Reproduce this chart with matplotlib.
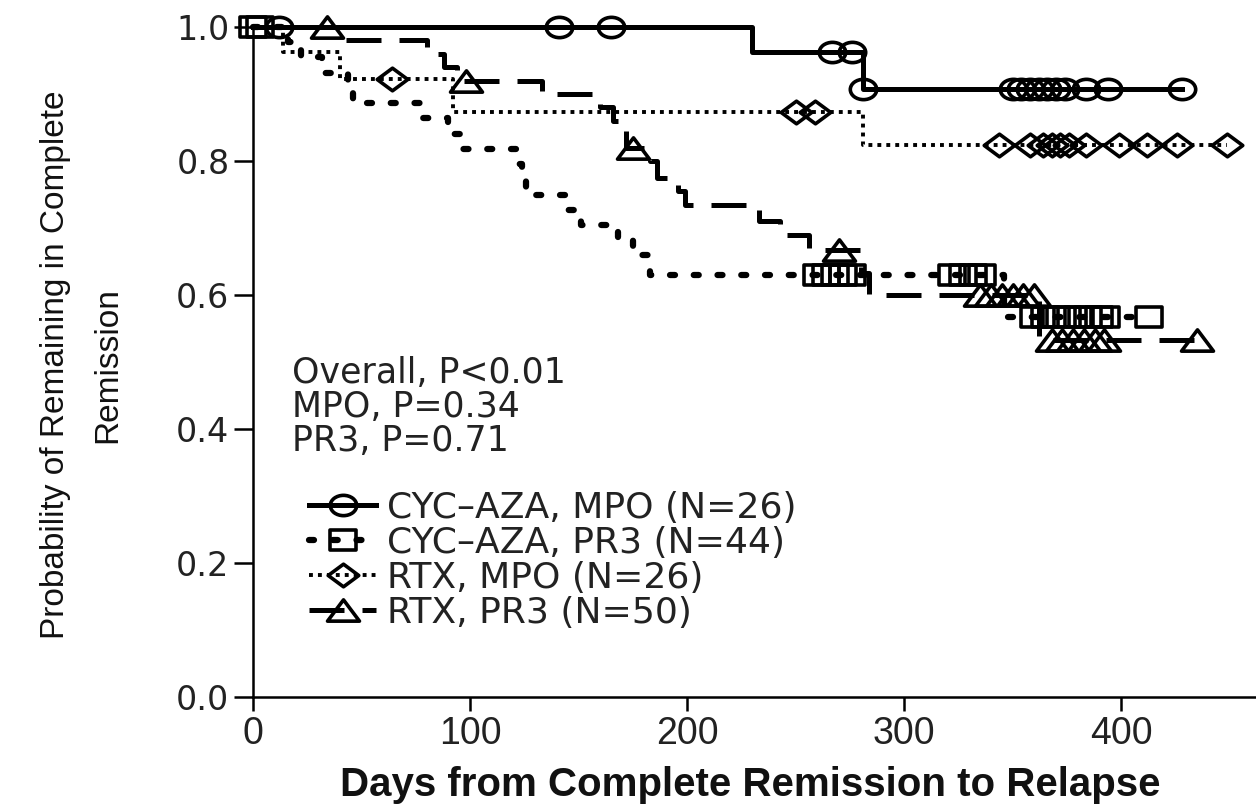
import numpy as np
import matplotlib
matplotlib.use("Agg")
import matplotlib.pyplot as plt
from matplotlib.path import Path

# Kaplan-Meier curves:
# day of each relapse, survival after that step, and censored days (open markers)
cyc_mpo_days = [230, 281]
cyc_mpo_surv = [0.962, 0.908]
cyc_mpo_censor = [12, 141, 165, 267, 276, 281, 350, 354, 358, 362, 366, 370, 374, 384, 394, 428]

cyc_pr3_days = [16, 22, 32, 44, 46, 78, 90, 97, 122, 124, 126, 145, 151, 168, 175, 183, 346]
cyc_pr3_surv = [0.977, 0.955, 0.932, 0.909, 0.886, 0.864, 0.841, 0.818, 0.795, 0.773, 0.750,
                0.727, 0.705, 0.682, 0.659, 0.630, 0.567]
cyc_pr3_censor = [0, 3, 260, 264, 268, 272, 276, 322, 327, 332, 336,
                  360, 365, 370, 375, 380, 385, 390, 393, 413]

rtx_mpo_days = [14, 40, 92, 281]
rtx_mpo_surv = [0.962, 0.923, 0.873, 0.824]
rtx_mpo_censor = [64, 250, 259, 344, 358, 364, 368, 372, 376, 384, 399, 412, 426, 449]

rtx_pr3_days = [40, 80, 88, 94, 133, 160, 166, 172, 183, 186, 196, 199, 233, 243, 256, 280, 284, 362]
rtx_pr3_surv = [0.98, 0.96, 0.94, 0.92, 0.90, 0.88, 0.86, 0.82, 0.80, 0.775, 0.755, 0.735,
                0.71, 0.69, 0.667, 0.633, 0.60, 0.533]
rtx_pr3_censor = [34, 98, 175, 270, 335, 340, 345, 350, 355, 360, 368, 373, 378, 383, 388, 392, 435]

labels = ["CYC\u2013AZA, MPO (N=26)", "CYC\u2013AZA, PR3 (N=44)",
          "RTX, MPO (N=26)", "RTX, PR3 (N=50)"]
x_ticks = [0, 100, 200, 300, 400]
y_ticks = [0.0, 0.2, 0.4, 0.6, 0.8, 1.0]
stats_text = "Overall, P<0.01\nMPO, P=0.34\nPR3, P=0.71"

narrow = ["Liberation Sans", "DejaVu Sans"]


def wide_marker(verts, sx):
    # the original figure is stretched horizontally, so are its markers
    v = np.array(verts, dtype=float) * [sx, 1.0]
    codes = [Path.MOVETO] + [Path.LINETO] * (len(v) - 2) + [Path.CLOSEPOLY]
    return Path(v, codes)


circ = Path.unit_circle()
m_circle = Path(circ.vertices * [1.3, 1.0], circ.codes)
m_square = wide_marker([(-1, -1), (1, -1), (1, 1), (-1, 1), (-1, -1)], 1.3)
m_diamond = wide_marker([(0, 1), (1, 0), (0, -1), (-1, 0), (0, 1)], 1.35)
m_triangle = wide_marker([(0, 1), (1, -1), (-1, -1), (0, 1)], 1.5)

series = [
    (cyc_mpo_days, cyc_mpo_surv, cyc_mpo_censor, dict(linestyle="-", lw=3.6), m_circle, 19),
    (cyc_pr3_days, cyc_pr3_surv, cyc_pr3_censor,
     dict(linestyle=(0, (0.8, 3.0)), lw=4.5, dash_capstyle="round"), m_square, 19),
    (rtx_mpo_days, rtx_mpo_surv, rtx_mpo_censor, dict(linestyle=(0, (1.0, 1.3)), lw=2.8), m_diamond, 22),
    (rtx_pr3_days, rtx_pr3_surv, rtx_pr3_censor, dict(linestyle=(0, (7.0, 3.6)), lw=3.6), m_triangle, 23),
]

fig = plt.figure(figsize=(12.56, 8.08), dpi=100)
ax = fig.add_axes([253 / 1256, 111 / 808, 1003 / 1256, 697 / 808])

handles = []
for (days, surv, censor, ls, marker, ms), lab in zip(series, labels):
    end = max(censor[-1], days[-1])
    xs = np.r_[0, days, end]
    ys = np.r_[1.0, surv, surv[-1]]
    ax.step(xs, ys, where="post", color="black", clip_on=False, **ls)
    lev = np.r_[1.0, surv][np.searchsorted(days, censor, side="right")]
    ax.plot(censor, lev, linestyle="none", marker=marker, markersize=ms,
            markerfacecolor="none", markeredgecolor="black", markeredgewidth=2.6,
            clip_on=False)
    h, = ax.plot([], [], color="black", marker=marker, markersize=ms,
                 markerfacecolor="none", markeredgecolor="black", markeredgewidth=2.6, **ls)
    handles.append(h)

ax.set_xlim(0, 1003 / 2.17)
ax.set_ylim(0, 697 / 670)

for s in ["top", "right"]:
    ax.spines[s].set_visible(False)
ax.spines["left"].set_bounds(0, 1.0)
ax.spines["left"].set_linewidth(1.8)
ax.spines["bottom"].set_linewidth(1.8)

ax.set_xticks(x_ticks)
ax.set_xticklabels([str(t) for t in x_ticks], family=narrow, fontsize=27, color="#222222")
ax.set_yticks(y_ticks)
ax.set_yticklabels([f"{t:.1f}" for t in y_ticks], family="DejaVu Sans", fontsize=24, color="#222222")
ax.tick_params(axis="x", direction="out", length=10, width=1.8, pad=4)
ax.tick_params(axis="y", direction="out", length=14, width=1.8, pad=3)

ax.set_xlabel("Days from Complete Remission to Relapse", family=narrow,
              fontsize=29, fontweight="bold", va="center", color="#111111")
ax.xaxis.set_label_coords(0.496, -0.126)
ax.set_ylabel("Probability of Remaining in Complete\nRemission", family=narrow,
              fontsize=24, ha="center", va="center", multialignment="center",
              linespacing=1.9, color="#111111")
ax.yaxis.set_label_coords(-0.171, 0.476)

ax.text(18, 0.433, stats_text, fontsize=25, va="center", ha="left",
        linespacing=1.0, color="#222222", family="DejaVu Sans")

leg = ax.legend(handles, labels, loc="center left", bbox_to_anchor=(26, 0.204),
                bbox_transform=ax.transData, frameon=False, fontsize=26,
                handlelength=1.85, handletextpad=0.3, labelspacing=0.03,
                borderpad=0, borderaxespad=0, numpoints=1)
for t in leg.get_texts():
    t.set_color("#222222")

fig.savefig("out.png", dpi=100)
